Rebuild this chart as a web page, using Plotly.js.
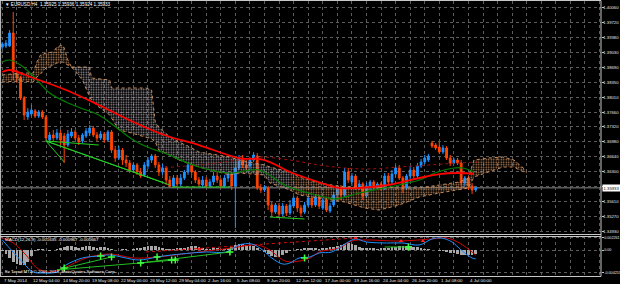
<!DOCTYPE html>
<html><head><meta charset="utf-8">
<script src="https://cdn.plot.ly/plotly-3.0.1.min.js"></script>
<style>html,body{margin:0;padding:0;background:#000;}#chart{width:620px;height:284px;}</style>
</head><body><div id="chart"></div>
<script>
// ---------- DATA ----------
const chartTitle = '\u25BC EURUSD,H4  1.35925 1.35936 1.35924 1.35933';
const macdTitle = 'MACD(12,26,9) -0.001635 -0.000967 -0.000667';
const copyright = 'Fx Trend MT4 \u00A9 2001-2014, MetaQuotes Software Corp.';
const lastPriceLabel = '1.35933';
const lastPrice = 1.35933;

const timeLabels = ['7 May 2014','12 May 04:00','14 May 20:00','19 May 08:00','22 May 00:00','26 May 12:00','29 May 04:00','2 Jun 16:00','5 Jun 08:00','9 Jun 20:00','12 Jun 12:00','17 Jun 00:00','19 Jun 16:00','24 Jun 04:00','26 Jun 20:00','1 Jul 08:00','4 Jul 00:00'];
const barsPerLabel = 16;

const priceTickVals = [1.40060,1.39718,1.39376,1.39034,1.38692,1.38350,1.38008,1.37666,1.37324,1.36982,1.36640,1.36298,1.35956,1.35614,1.35272,1.34930];
const priceTickText = ['1.40060','1.39720','1.39380','1.39030','1.38690','1.38350','1.38010','1.37660','1.37320','1.36980','1.36640','1.36300','','1.35610','1.35270','1.34930'];
const macdTickVals = [0.002261, 0, -0.004253];
const macdTickText = ['0.002261','0.00','-0.004253'];

const opens = [1.39153,1.39175,1.39175,1.39473,1.38535,1.38444,1.37987,1.37552,1.37621,1.37690,
1.37575,1.37667,1.37552,1.37027,1.37141,1.37072,1.37187,1.37118,1.36912,1.37118,
1.37210,1.37072,1.37004,1.37118,1.37187,1.37301,1.37141,1.37072,1.37164,1.37027,
1.37210,1.36798,1.36615,1.36798,1.36569,1.36501,1.36341,1.36455,1.36295,1.36227,
1.36432,1.36569,1.36661,1.36455,1.36295,1.36387,1.36112,1.35975,1.36158,1.36021,
1.36158,1.36295,1.36455,1.36295,1.36112,1.35998,1.36112,1.35975,1.36067,1.36204,
1.36112,1.35975,1.36158,1.36249,1.35975,1.36387,1.36615,1.36455,1.36432,1.36569,
1.36661,1.35929,1.35884,1.35929,1.35541,1.35381,1.35518,1.35335,1.35518,1.35358,
1.35518,1.35701,1.35472,1.35381,1.35541,1.35701,1.35541,1.35724,1.35472,1.35655,
1.35404,1.35541,1.35769,1.35929,1.35769,1.36295,1.36067,1.36204,1.35929,1.36021,
1.35747,1.35975,1.36067,1.35929,1.36021,1.35906,1.36204,1.36067,1.36249,1.36387,
1.36158,1.35929,1.36204,1.36341,1.36204,1.36432,1.36524,1.36569,1.36958,1.36912,
1.36867,1.36752,1.36844,1.36615,1.36501,1.36569,1.36501,1.36044,1.36158,1.35975,
1.35884];
const highs = [1.39267,1.39313,1.39541,1.39953,1.38627,1.38490,1.38032,1.37758,1.37827,1.37735,
1.37712,1.37712,1.37598,1.37210,1.37255,1.37278,1.37255,1.37187,1.37255,1.37301,
1.37255,1.37141,1.37187,1.37301,1.37370,1.37347,1.37210,1.37232,1.37210,1.37255,
1.37255,1.36889,1.36889,1.36844,1.36684,1.36569,1.36524,1.36501,1.36387,1.36524,
1.36638,1.36707,1.36707,1.36524,1.36478,1.36432,1.36204,1.36227,1.36227,1.36249,
1.36341,1.36524,1.36501,1.36341,1.36181,1.36204,1.36181,1.36135,1.36295,1.36295,
1.36158,1.36227,1.36295,1.36295,1.36569,1.36684,1.36684,1.36569,1.36615,1.36752,
1.36729,1.36021,1.35998,1.35975,1.35609,1.35587,1.35587,1.35587,1.35564,1.35655,
1.35747,1.35747,1.35541,1.35609,1.35747,1.35747,1.35792,1.35769,1.35701,1.35701,
1.35587,1.35838,1.35998,1.35998,1.36387,1.36387,1.36272,1.36249,1.36112,1.36067,
1.36044,1.36112,1.36112,1.36067,1.36067,1.36272,1.36272,1.36341,1.36455,1.36455,
1.36204,1.36249,1.36432,1.36409,1.36501,1.36592,1.36684,1.36707,1.37004,1.36958,
1.36981,1.36912,1.36889,1.36684,1.36615,1.36615,1.36569,1.36204,1.36204,1.36044,
1.35975];
const lows = [1.39107,1.39130,1.39153,1.38398,1.38330,1.37941,1.37484,1.37484,1.37575,1.37530,
1.37530,1.37507,1.36981,1.36958,1.37004,1.37027,1.36912,1.36501,1.36867,1.37072,
1.37027,1.36912,1.36958,1.37072,1.37118,1.37095,1.37004,1.37027,1.36958,1.36981,
1.36729,1.36524,1.36569,1.36455,1.36409,1.36272,1.36295,1.36227,1.36158,1.36181,
1.36364,1.36501,1.36387,1.36204,1.36227,1.35998,1.35929,1.35929,1.35952,1.35975,
1.36112,1.36227,1.36227,1.36044,1.35975,1.35929,1.35929,1.35929,1.35998,1.36044,
1.35929,1.35929,1.36067,1.35884,1.35015,1.36341,1.36387,1.36341,1.36364,1.36524,
1.35884,1.35815,1.35838,1.35426,1.35266,1.35335,1.35244,1.35289,1.35289,1.35312,
1.35472,1.35381,1.35289,1.35335,1.35495,1.35472,1.35495,1.35449,1.35426,1.35381,
1.35358,1.35495,1.35701,1.35655,1.35724,1.36044,1.35975,1.35884,1.35884,1.35655,
1.35701,1.35884,1.35884,1.35884,1.35861,1.35884,1.35998,1.36021,1.36181,1.36112,
1.35815,1.35884,1.36135,1.36135,1.36158,1.36387,1.36478,1.36524,1.36844,1.36798,
1.36707,1.36707,1.36569,1.36432,1.36478,1.36455,1.35884,1.35975,1.35884,1.35792,
1.35838];
const closes = [1.39221,1.39244,1.39473,1.38581,1.38444,1.37987,1.37598,1.37667,1.37712,1.37575,
1.37667,1.37552,1.37072,1.37141,1.37072,1.37187,1.37027,1.36912,1.37164,1.37210,
1.37072,1.36981,1.37141,1.37232,1.37301,1.37141,1.37072,1.37164,1.37027,1.37210,
1.36798,1.36615,1.36798,1.36569,1.36501,1.36341,1.36455,1.36295,1.36204,1.36455,
1.36569,1.36661,1.36455,1.36295,1.36387,1.36112,1.35975,1.36158,1.36021,1.36158,
1.36295,1.36455,1.36295,1.36112,1.36021,1.36112,1.35975,1.36067,1.36204,1.36112,
1.35975,1.36158,1.36249,1.35975,1.36387,1.36615,1.36455,1.36387,1.36569,1.36684,
1.35929,1.35884,1.35952,1.35541,1.35381,1.35541,1.35335,1.35518,1.35358,1.35541,
1.35701,1.35472,1.35358,1.35541,1.35701,1.35541,1.35724,1.35518,1.35655,1.35426,
1.35518,1.35769,1.35929,1.35769,1.36295,1.36112,1.36204,1.35929,1.36021,1.35747,
1.35975,1.36067,1.35929,1.36021,1.35906,1.36204,1.36067,1.36249,1.36387,1.36158,
1.35929,1.36204,1.36341,1.36204,1.36432,1.36524,1.36615,1.36661,1.36889,1.36844,
1.36752,1.36844,1.36615,1.36501,1.36569,1.36501,1.36044,1.36158,1.35975,1.35884,
1.35933];

const redMaBars = [0,4,17,35,53,72,89,108,130,144,158,177,185,196,212,229,240,251,259];
const redMaVals = [1.38581,1.38627,1.38444,1.38170,1.37827,1.37438,1.37141,1.36912,1.36615,1.36569,1.36295,1.36021,1.35929,1.35929,1.35998,1.36158,1.36249,1.36272,1.36249];
const greenMaBars = [0,4,10,17,26,35,43,53,63,72,81,89,108,125,141,155,168,177,183,196,218,229,239,248,253,259];
const greenMaVals = [1.38810,1.38855,1.38741,1.38490,1.38101,1.37895,1.37758,1.37598,1.37301,1.37027,1.36844,1.36729,1.36409,1.36272,1.36341,1.35998,1.35815,1.35724,1.35678,1.35815,1.35998,1.36112,1.36295,1.36387,1.36387,1.36295];
const maroonBars = [86,108,130,141,158,174,188,201,218,234,251,261];
const maroonVals = [1.36387,1.36455,1.36569,1.36638,1.36569,1.36455,1.36387,1.36364,1.36409,1.36455,1.36501,1.36524];

const trendBars = [24,89,null,24,92,null,24,34,null,24,53,null,93,125,null,147,166];
const trendVals = [1.37004,1.36044,null,1.37004,1.35998,null,1.37004,1.36524,null,1.37004,1.36912,null,1.35952,1.35952,null,1.35266,1.35221];

const cloud1Bars = [0,10,17,19,21,24,28,30,33,34,36,38];
const cloud1Top = [1.38512,1.38558,1.38558,1.38810,1.38970,1.39015,1.39038,1.39153,1.39198,1.39130,1.38855,1.38695];
const cloud1Bottom = [1.38352,1.38375,1.38352,1.38467,1.38535,1.38673,1.38741,1.38787,1.38810,1.38787,1.38741,1.38695];
const cloud2Bars = [38,44,48,49,53,59,60,64,71,79,82,84,86,92,97,103,108,125,130,144,147,158];
const cloud2Top = [1.38695,1.38695,1.38695,1.38444,1.38421,1.38398,1.38215,1.38215,1.38215,1.38215,1.38170,1.37438,1.37324,1.37095,1.36981,1.36867,1.36752,1.36638,1.36569,1.36455,1.36409,1.36295];
const cloud2Bottom = [1.38695,1.38398,1.38010,1.37941,1.37781,1.37598,1.37530,1.37255,1.37187,1.37095,1.37050,1.36981,1.36798,1.36684,1.36569,1.36478,1.36409,1.36227,1.36272,1.36227,1.36044,1.35884];
const cloud3Bars = [158,163,174,188,199,207,218,229,240,251,256,259,267,275,281,284,288];
const cloud3Top = [1.36295,1.36181,1.36044,1.35952,1.35952,1.35952,1.35929,1.35929,1.35998,1.36067,1.36158,1.36569,1.36615,1.36638,1.36569,1.36455,1.36318];
const cloud3Bottom = [1.35884,1.35769,1.35701,1.35609,1.35472,1.35426,1.35541,1.35724,1.35815,1.35884,1.35929,1.36181,1.36295,1.36409,1.36409,1.36341,1.36272];

const histVals = [-0.00017,-0.00073,-0.00147,-0.00221,-0.00259,-0.00277,-0.00277,-0.00221,-0.00110,-0.00017,
0.00020,0.00020,0.00002,-0.00017,0.00002,0.00020,0.00039,0.00058,0.00076,0.00076,
0.00058,0.00039,0.00058,0.00076,0.00076,0.00058,0.00039,0.00058,0.00058,0.00039,
0.00020,0.00002,0.00002,0.00020,0.00020,0.00002,0.00020,0.00039,0.00039,0.00058,
0.00076,0.00076,0.00076,0.00058,0.00039,0.00020,0.00020,0.00020,0.00039,0.00039,
0.00039,0.00058,0.00076,0.00076,0.00058,0.00039,0.00020,0.00020,0.00039,0.00039,
0.00020,0.00020,0.00039,0.00058,0.00095,0.00114,0.00114,0.00095,0.00095,0.00076,
0.00039,0.00002,-0.00035,-0.00073,-0.00110,-0.00128,-0.00128,-0.00091,-0.00054,-0.00017,
0.00002,0.00020,0.00020,0.00039,0.00039,0.00039,0.00039,0.00020,0.00039,0.00039,
0.00058,0.00058,0.00076,0.00095,0.00114,0.00132,0.00114,0.00095,0.00058,0.00039,
0.00039,0.00039,0.00039,0.00020,0.00039,0.00039,0.00039,0.00058,0.00058,0.00076,
0.00076,0.00076,0.00076,0.00058,0.00058,0.00039,0.00020,0.00020,0.00002,0.00002,
-0.00017,-0.00017,-0.00035,-0.00054,-0.00054,-0.00073,-0.00091,-0.00091,-0.00091,-0.00091,
-0.00067];
const macdBars = [0,10,17,22,30,35,44,53,59,75,85,93,104,112,123,130,137,143,148,154,158,163,169,174,181,189,194,200,211,220,229,236,241,247,252,258,260];
const macdMain = [0.00188,-0.00184,-0.00408,-0.00426,-0.00408,-0.00277,-0.00147,-0.00110,-0.00091,-0.00184,-0.00128,-0.00091,-0.00054,-0.00035,-0.00035,0.00095,0.00114,0.00000,-0.00147,-0.00259,-0.00240,-0.00147,-0.00128,-0.00054,-0.00035,0.00132,0.00207,0.00151,0.00132,0.00132,0.00095,0.00207,0.00225,0.00151,0.00000,-0.00147,-0.00164];
const signalBars = [0,6,13,19,26,35,46,59,72,85,108,126,140,147,154,159,169,174,185,192,200,218,236,244,251,258,260];
const signalVals = [0.00225,0.00132,-0.00091,-0.00333,-0.00408,-0.00315,-0.00147,-0.00073,-0.00147,-0.00128,-0.00035,0.00039,0.00095,0.00000,-0.00184,-0.00221,-0.00147,-0.00035,0.00039,0.00169,0.00188,0.00169,0.00207,0.00225,0.00132,-0.00035,-0.00097];
const macdTrendBars = [30,60,null,30,95,null,76,125,null,210,223];
const macdTrendVals = [-0.00370,-0.00128,null,-0.00370,-0.00184,null,-0.00240,-0.00035,null,0.00058,0.00058];
const macdRedLineBars = [79,194];
const macdRedLineVals = [-0.00035,0.00225];
const buyMarkBars = [34,54,60,76,85,93,95,125,166,223];
const buyMarkVals = [-0.00333,-0.00110,-0.00128,-0.00240,-0.00128,-0.00184,-0.00184,-0.00035,-0.00147,0.00058];
const sellMarkBars = [108,194,219,231];
const sellMarkVals = [0.00020,0.00225,0.00169,0.00169];

// ---------- BUILD ----------
const W = 620, H = 284;
const py = p => (H - p) / H;          // pixel row -> paper y
const FONT = 'Liberation Sans, Arial, sans-serif';
const TXT = '#e8e8e8';
const GRID = '#5c5c5c';
const FRAME = '#c8c8c8';
const EDGE = '#c48a5c';
const candleBars = opens.map((_, j) => j * 2);
const gridBars = [];
for (let b = 0; b <= 328; b += 8) gridBars.push(b);

function cloud(bars, top, bottom, color) {
  const base = {type:'scatter', x:bars, mode:'lines', xaxis:'x', yaxis:'y', hoverinfo:'skip',
                line:{color:EDGE, width:1, dash:'dot'}};
  return [
    Object.assign({}, base, {y:bottom}),
    Object.assign({}, base, {y:top, fill:'tonexty', fillcolor:'rgba(0,0,0,0)',
      fillpattern:{shape:'.', fgcolor:color, bgcolor:'rgba(0,0,0,0)', size:2.5, solidity:0.3}})
  ];
}

const traces = [
  ...cloud(cloud1Bars, cloud1Top, cloud1Bottom, '#c48a5c'),
  ...cloud(cloud2Bars, cloud2Top, cloud2Bottom, '#a8a0a8'),
  ...cloud(cloud3Bars, cloud3Top, cloud3Bottom, '#c48a5c'),
  {type:'scatter', x:maroonBars, y:maroonVals, mode:'lines', line:{color:'#a01010', width:1, dash:'dot', shape:'spline'}, xaxis:'x', yaxis:'y'},
  {type:'scatter', x:greenMaBars, y:greenMaVals, mode:'lines', line:{color:'#008000', width:1.2, shape:'spline'}, xaxis:'x', yaxis:'y'},
  {type:'scatter', x:redMaBars, y:redMaVals, mode:'lines', line:{color:'#ff0000', width:1.8, shape:'spline'}, xaxis:'x', yaxis:'y'},
  {type:'candlestick', x:candleBars, open:opens, high:highs, low:lows, close:closes,
   increasing:{line:{color:'#1e90ff', width:1}, fillcolor:'#1e90ff'},
   decreasing:{line:{color:'#ff4500', width:1}, fillcolor:'#ff4500'},
   whiskerwidth:0, xaxis:'x', yaxis:'y'},
  {type:'scatter', x:trendBars, y:trendVals, mode:'lines', connectgaps:false, line:{color:'#22d022', width:1}, xaxis:'x', yaxis:'y'},
  // MACD panel
  {type:'bar', x:candleBars, y:histVals, width:1.5, marker:{color:'#a8a8a8', line:{width:0}}, xaxis:'x2', yaxis:'y2'},
  {type:'scatter', x:macdRedLineBars, y:macdRedLineVals, mode:'lines', line:{color:'#d01010', width:1, dash:'dot'}, xaxis:'x2', yaxis:'y2'},
  {type:'scatter', x:signalBars, y:signalVals, mode:'lines', line:{color:'#d00000', width:1, shape:'spline'}, xaxis:'x2', yaxis:'y2'},
  {type:'scatter', x:macdBars, y:macdMain, mode:'lines', line:{color:'#1e90ff', width:1, shape:'spline'}, xaxis:'x2', yaxis:'y2'},
  {type:'scatter', x:macdTrendBars, y:macdTrendVals, mode:'lines', connectgaps:false, line:{color:'#22c022', width:1}, xaxis:'x2', yaxis:'y2'},
  {type:'scatter', x:buyMarkBars, y:buyMarkVals, mode:'markers', marker:{symbol:'cross-thin', size:5, line:{color:'#40ff40', width:1.5}}, xaxis:'x2', yaxis:'y2'},
  {type:'scatter', x:sellMarkBars, y:sellMarkVals, mode:'markers', marker:{symbol:'triangle-up', size:4, color:'#ff2020'}, xaxis:'x2', yaxis:'y2'}
];

const xBase = {range:[-1.26, 328.8], domain:[0,1], tickvals:gridBars, showticklabels:false, ticks:'',
  showgrid:true, gridcolor:GRID, griddash:'dot', gridwidth:1, zeroline:false, showline:false,
  rangeslider:{visible:false}, fixedrange:true};
const yBase = {side:'right', ticks:'outside', ticklen:1.5, tickcolor:FRAME, tickwidth:1,
  ticklabelstandoff:-1,
  tickfont:{family:FONT, size:4.2, color:TXT}, showgrid:true, gridcolor:GRID, griddash:'dot',
  gridwidth:1, zeroline:false, showline:false, fixedrange:true};

const annotations = [
  {xref:'paper', yref:'paper', x:3/601, y:py(5), xanchor:'left', yanchor:'middle', text:chartTitle,
   showarrow:false, font:{family:FONT, size:4.6, color:'#ffffff'}},
  {xref:'paper', yref:'paper', x:3/601, y:py(239.5), xanchor:'left', yanchor:'middle', text:macdTitle,
   showarrow:false, font:{family:FONT, size:4.4, color:'#ffffff'}},
  {xref:'paper', yref:'paper', x:3/601, y:py(271), xanchor:'left', yanchor:'middle', text:copyright,
   showarrow:false, font:{family:FONT, size:4.4, color:'#ffffff'}},
  {xref:'paper', yref:'y', x:1, y:lastPrice, xanchor:'left', yanchor:'middle', text:lastPriceLabel,
   showarrow:false, bgcolor:'#ffffff', borderpad:0.6, xshift:0.5, font:{family:FONT, size:4.2, color:'#000000'}}
];
timeLabels.forEach((t, k) => annotations.push({
  xref:'x', yref:'paper', x:k * barsPerLabel, y:py(280), xanchor:'left', yanchor:'middle', text:t,
  showarrow:false, xshift:0, font:{family:FONT, size:4.4, color:TXT}}));

const hline = (px, x1) => ({type:'line', xref:'paper', yref:'paper', x0:0, x1:x1, y0:py(px), y1:py(px), line:{color:FRAME, width:1}});
const shapes = [
  {type:'line', xref:'paper', yref:'y', x0:0, x1:1, y0:lastPrice, y1:lastPrice, line:{color:'#8a8a8a', width:1}, layer:'below'},
  hline(0.5, 1), hline(234.5, 1), hline(236.5, 1), hline(276.5, 1),
  {type:'line', xref:'paper', yref:'paper', x0:1, x1:1, y0:py(0.5), y1:py(276.5), line:{color:FRAME, width:1}},
  {type:'line', xref:'paper', yref:'paper', x0:0.6/601, x1:0.6/601, y0:py(0.5), y1:py(276.5), line:{color:FRAME, width:1}}
];

const layout = {
  width:W, height:H, margin:{l:0, r:19, t:0, b:0, pad:0},
  paper_bgcolor:'#000000', plot_bgcolor:'#000000', showlegend:false, hovermode:false,
  xaxis:Object.assign({}, xBase, {anchor:'y'}),
  xaxis2:Object.assign({}, xBase, {anchor:'y2', matches:'x'}),
  yaxis:Object.assign({}, yBase, {domain:[py(234), py(1)], range:[1.34878, 1.40204],
    tickvals:priceTickVals, ticktext:priceTickText}),
  yaxis2:Object.assign({}, yBase, {domain:[py(276), py(236)], range:[-0.00482, 0.00262],
    tickvals:macdTickVals, ticktext:macdTickText, ticklabelstandoff:-1.5,
    tickfont:{family:FONT, size:3.7, color:TXT}}),
  bargap:0, annotations:annotations, shapes:shapes
};

Plotly.newPlot('chart', traces, layout, {staticPlot:true, displayModeBar:false});
</script></body></html>
